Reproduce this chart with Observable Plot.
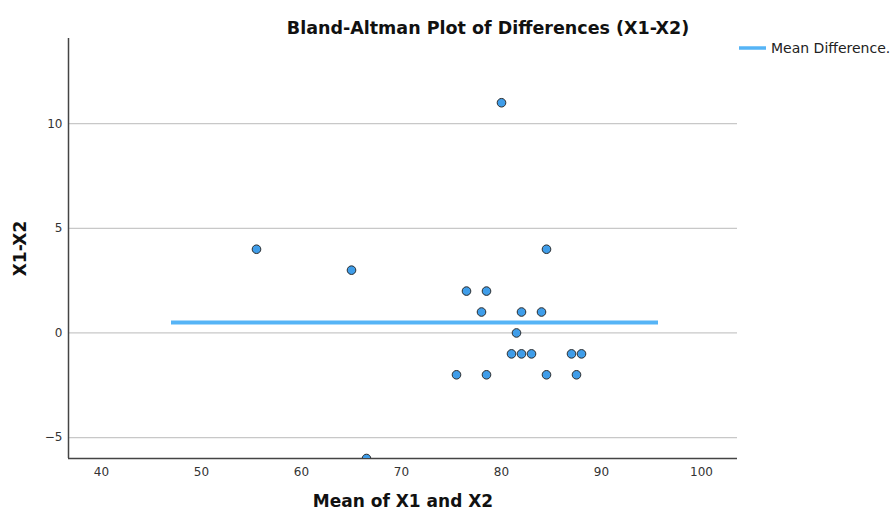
<!DOCTYPE html>
<html>
<head>
<meta charset="utf-8">
<script src="https://cdn.jsdelivr.net/npm/d3@7"></script>
<script src="https://cdn.jsdelivr.net/npm/@observablehq/plot@0.6"></script>
<style>
  html, body { margin: 0; padding: 0; background: #fff; }
  #chart svg { display: block; font-family: "DejaVu Sans", sans-serif; }
</style>
</head>
<body>
<div id="chart"></div>
<script>
// Data
const meanX1X2 = [55.5, 65, 66.5, 80, 84.5, 76.5, 78.5, 78, 82, 84, 81.5, 81, 82, 83, 87, 88, 75.5, 78.5, 84.5, 87.5];
const diffX1X2 = [4, 3, -6, 11, 4, 2, 2, 1, 1, 1, 0, -1, -1, -1, -1, -1, -2, -2, -2, -2];
const meanDifference = 0.5;
const meanLineRange = [47, 95.7];
const xTicks = [40, 50, 60, 70, 80, 90, 100];
const yTicks = [-5, 0, 5, 10];
const xDomain = [36.7, 103.6];
const yDomain = [-6, 14.07];

const points = meanX1X2.map((m, i) => ({mean: m, diff: diffX1X2[i]}));
const meanLine = [{x1: meanLineRange[0], x2: meanLineRange[1], y: meanDifference}];

const legendMark = (index, scales, values, dims) => {
  const g = d3.create("svg:g");
  const x0 = dims.width - dims.marginRight;
  const y0 = dims.marginTop;
  g.append("line")
    .attr("x1", x0 + 2).attr("x2", x0 + 29)
    .attr("y1", y0 + 10).attr("y2", y0 + 10)
    .attr("stroke", "#56b4f6").attr("stroke-width", 3.5);
  g.append("text")
    .attr("x", x0 + 34).attr("y", y0 + 10)
    .attr("dy", "0.35em")
    .attr("text-anchor", "start")
    .attr("font-size", 14)
    .attr("fill", "#222")
    .text("Mean Difference.");
  return g.node();
};

const plot = Plot.plot({
  width: 895,
  height: 514,
  marginLeft: 68,
  marginRight: 158,
  marginTop: 38,
  marginBottom: 56,
  style: {fontFamily: "DejaVu Sans, sans-serif", background: "#fff"},
  x: {domain: xDomain, ticks: xTicks},
  y: {domain: yDomain, ticks: yTicks},
  marks: [
    Plot.gridY(yTicks, {stroke: "#c8c8c8", strokeOpacity: 1, strokeWidth: 1.2}),
    Plot.axisX(xTicks, {tickSize: 0, tickPadding: 9, fontSize: 12, fill: "#333", label: null}),
    Plot.axisY(yTicks, {tickSize: 0, tickPadding: 6, fontSize: 12, fill: "#333", label: null}),
    Plot.ruleX([xDomain[0]], {stroke: "#444", strokeWidth: 1.5}),
    Plot.ruleY([yDomain[0]], {stroke: "#444", strokeWidth: 1.5}),
    Plot.ruleY(meanLine, {x1: "x1", x2: "x2", y: "y", stroke: "#56b4f6", strokeWidth: 4}),
    Plot.dot(points, {x: "mean", y: "diff", r: 4.3, fill: "#3f9de9", stroke: "#2b2b2b", strokeWidth: 1, clip: true}),
    Plot.text(["Bland-Altman Plot of Differences (X1-X2)"], {frameAnchor: "top", textAnchor: "middle", dx: 85, dy: -17, fontSize: 17.5, fontWeight: "bold", fill: "#111"}),
    Plot.text(["Mean of X1 and X2"], {frameAnchor: "bottom", textAnchor: "middle", dy: 48, fontSize: 17, fontWeight: "bold", fill: "#111"}),
    Plot.text(["X1-X2"], {frameAnchor: "left", textAnchor: "middle", dx: -48, rotate: -90, fontSize: 17, fontWeight: "bold", fill: "#111"}),
    legendMark
  ]
});
document.getElementById("chart").appendChild(plot);
</script>
</body>
</html>
